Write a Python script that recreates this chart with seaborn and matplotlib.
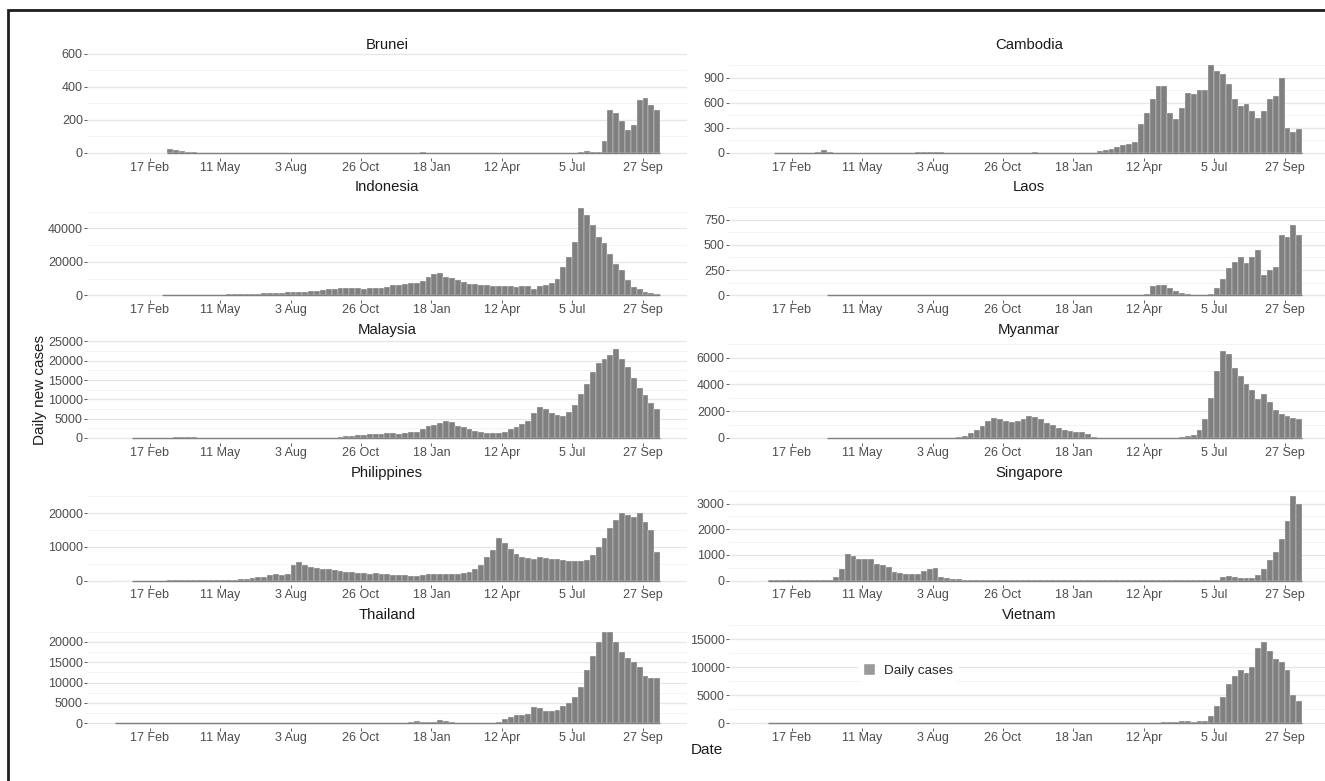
import matplotlib
matplotlib.use("Agg")
import matplotlib.pyplot as plt
import matplotlib.dates as mdates
import numpy as np
import pandas as pd
import seaborn as sns
from matplotlib.patches import Patch, Rectangle
from matplotlib.ticker import FuncFormatter, MultipleLocator

nan = float("nan")

countries = ["Brunei", "Cambodia", "Indonesia", "Laos", "Malaysia",
             "Myanmar", "Philippines", "Singapore", "Thailand", "Vietnam"]

# one value per week (Mondays, 6 Jan 2020 .. 11 Oct 2021)
# rows: 6 weeks, then 7 blocks of 12 weeks (one block per x tick), then 3 weeks
brunei = [nan, nan, nan, nan, nan, nan,
          nan, nan, nan, 20, 15, 10, 6, 3, 1, 1, 0, 0,
          0, 0, 0, 0, 0, 0, 0, 0, 0, 0, 0, 0,
          0, 0, 0, 0, 0, 0, 0, 0, 0, 0, 0, 0,
          0, 0, 0, 0, 0, 0, 0, 0, 0, 1, 3, 1,
          0, 0, 0, 0, 0, 0, 1, 0, 0, 0, 0, 1,
          1, 0, 1, 0, 0, 1, 0, 1, 1, 0, 1, 1,
          1, 2, 8, 3, 2, 70, 260, 240, 190, 140, 170, 320,
          330, 290, 260]
cambodia = [nan, nan, nan, 0, 0, 0,
            0, 0, 0, 1, 15, 30, 10, 3, 1, 0, 0, 0,
            0, 0, 0, 0, 0, 0, 0, 0, 2, 5, 10, 8,
            10, 5, 2, 1, 0, 0, 1, 0, 0, 0, 0, 0,
            0, 0, 0, 1, 3, 5, 2, 1, 1, 2, 3, 1,
            1, 1, 2, 1, 20, 35, 40, 70, 90, 110, 130, 350,
            480, 650, 800, 800, 480, 400, 540, 720, 700, 750, 750, 1050,
            980, 950, 830, 650, 560, 580, 500, 420, 500, 640, 680, 900,
            300, 250, 280]
indonesia = [nan, nan, nan, nan, nan, nan,
             nan, nan, 5, 30, 70, 100, 150, 300, 350, 330, 350, 400,
             500, 550, 600, 700, 900, 1000, 1100, 1300, 1500, 1600, 1700, 1900,
             2000, 2100, 2200, 2400, 2800, 3100, 3500, 3900, 4200, 4400, 4300, 4200,
             3600, 4100, 4400, 4600, 5200, 6000, 6400, 6800, 7200, 7500, 8500, 11000,
             13000, 13500, 11000, 10500, 9000, 8000, 7000, 6500, 6200, 6000, 5800, 5500,
             5500, 5300, 5200, 5500, 5500, 3500, 5500, 6000, 7500, 9500, 17000, 23000,
             32000, 52000, 48000, 42000, 35000, 31000, 25000, 19000, 15000, 9000, 5000, 3500,
             2200, 1500, 1100]
laos = [nan, nan, nan, nan, nan, nan,
        nan, nan, nan, nan, nan, nan, 0, 1, 2, 1, 0, 0,
        0, 0, 0, 0, 0, 0, 0, 0, 0, 0, 0, 0,
        0, 0, 0, 0, 0, 0, 0, 0, 0, 0, 0, 0,
        0, 0, 0, 0, 0, 8, 0, 0, 0, 0, 0, 0,
        0, 0, 0, 0, 0, 0, 0, 0, 0, 0, 0, 0,
        10, 90, 105, 100, 70, 45, 25, 10, 8, 5, 6, 15,
        70, 160, 270, 330, 380, 320, 380, 450, 200, 250, 280, 600,
        580, 700, 600]
malaysia = [nan, nan, nan, 5, 3, 2,
            1, 0, 15, 90, 160, 180, 150, 140, 80, 50, 40, 50,
            40, 30, 20, 20, 20, 10, 8, 5, 5, 5, 5, 10,
            10, 15, 20, 15, 10, 30, 50, 100, 200, 400, 600, 850,
            850, 1000, 950, 1050, 1200, 1200, 1100, 1300, 1500, 1600, 2300, 3000,
            3300, 4000, 4500, 4200, 3200, 2800, 2300, 1800, 1500, 1400, 1300, 1300,
            1600, 2200, 2800, 3500, 4500, 6500, 8000, 7500, 6500, 6000, 5800, 6800,
            8500, 11500, 14000, 17000, 19500, 20500, 21500, 23000, 20500, 18500, 15500, 13000,
            11000, 9000, 7500]
myanmar = [nan, nan, nan, nan, nan, nan,
           nan, nan, nan, nan, nan, nan, 1, 2, 8, 10, 5, 3,
           5, 8, 3, 20, 8, 10, 5, 3, 8, 10, 5, 3,
           3, 2, 5, 10, 60, 150, 350, 600, 900, 1300, 1500, 1400,
           1300, 1200, 1300, 1450, 1650, 1600, 1450, 1150, 950, 750, 620, 520,
           480, 420, 300, 50, 20, 10, 15, 10, 5, 5, 5, 5,
           5, 8, 10, 10, 10, 15, 50, 120, 200, 600, 1400, 3000,
           5000, 6500, 6300, 5200, 4600, 4000, 3600, 2900, 3300, 2700, 2100, 1800,
           1650, 1500, 1450]
philippines = [nan, nan, nan, 0, 0, 0,
               0, 0, 5, 30, 50, 180, 250, 220, 200, 250, 200, 220,
               250, 230, 250, 400, 600, 900, 1000, 1200, 1600, 1800, 1700, 2000,
               4500, 5500, 4500, 4000, 3800, 3500, 3500, 3000, 2800, 2600, 2500, 2300,
               2200, 2000, 2100, 2000, 1800, 1700, 1700, 1500, 1400, 1300, 1500, 1800,
               1900, 1900, 2000, 1900, 2000, 2300, 2600, 3300, 4500, 7000, 9000, 12500,
               11000, 9500, 8000, 7000, 6800, 6500, 7000, 6800, 6500, 6300, 6000, 5800,
               5700, 5800, 6000, 7500, 10000, 12500, 15500, 18000, 20000, 19500, 19000, 20000,
               17500, 15000, 8500]
singapore = [nan, nan, 5, 5, 10, 5,
             5, 5, 10, 15, 20, 30, 40, 120, 450, 1050, 950, 850,
             850, 820, 650, 600, 520, 330, 300, 260, 260, 270, 380, 450,
             500, 130, 80, 65, 50, 40, 30, 20, 15, 10, 10, 8,
             8, 8, 8, 10, 12, 10, 10, 12, 15, 20, 25, 25,
             30, 25, 15, 12, 12, 15, 12, 15, 20, 25, 25, 20,
             25, 30, 30, 35, 25, 20, 20, 15, 15, 18, 20, 15,
             10, 130, 180, 120, 90, 80, 100, 200, 450, 800, 1100, 1600,
             2300, 3300, 3000]
thailand = [0, 1, 2, 3, 2, 3,
            2, 3, 10, 30, 100, 130, 100, 50, 30, 15, 5, 5,
            3, 2, 2, 3, 5, 3, 3, 5, 5, 3, 3, 4,
            3, 4, 5, 3, 5, 4, 3, 4, 5, 8, 6, 8,
            7, 8, 6, 8, 10, 8, 10, 15, 400, 500, 400, 300,
            250, 800, 500, 200, 150, 150, 100, 80, 60, 80, 60, 300,
            1000, 1500, 2000, 2100, 2200, 4000, 3800, 2900, 3000, 3300, 4200, 5000,
            6500, 9000, 13000, 16500, 20000, 22500, 22500, 20000, 17500, 16000, 15000, 13800,
            11500, 11000, 11000]
vietnam = [nan, nan, 0, 1, 2, 1,
           1, 0, 3, 10, 20, 15, 8, 2, 1, 0, 0, 0,
           0, 1, 2, 1, 1, 2, 1, 3, 2, 1, 10, 20,
           25, 20, 10, 5, 3, 2, 2, 1, 1, 1, 2, 1,
           2, 1, 1, 2, 3, 2, 1, 2, 3, 2, 2, 1,
           1, 30, 60, 40, 20, 10, 5, 3, 3, 2, 3, 3,
           3, 5, 30, 150, 200, 250, 300, 350, 250, 300, 400, 1200,
           3000, 4700, 7000, 8500, 9500, 9000, 10000, 13500, 14500, 13000, 11500, 11000,
           9500, 5000, 4000]

# largest single day in each panel (sets the free y scale) and y break step
y_max = [576, 1140, 56757, 940, 24600, 7100, 28200, 3700, 23400, 17000]
y_step = [200, 300, 20000, 250, 5000, 2000, 10000, 1000, 5000, 5000]

tick_dates = ["2020-02-17", "2020-05-11", "2020-08-03", "2020-10-26",
              "2021-01-18", "2021-04-12", "2021-07-05", "2021-09-27"]
tick_labels = ["17 Feb", "11 May", "3 Aug", "26 Oct",
               "18 Jan", "12 Apr", "5 Jul", "27 Sep"]

series = [brunei, cambodia, indonesia, laos, malaysia,
          myanmar, philippines, singapore, thailand, vietnam]

week_start = pd.date_range("2020-01-06", "2021-10-11", freq="7D")
for s in series:
    assert len(s) == len(week_start)

sns.set_theme(style="whitegrid")
plt.rcParams["font.family"] = ["Liberation Sans", "DejaVu Sans"]

W, H = 1325, 781
fig = plt.figure(figsize=(W / 100, H / 100), dpi=100)

col_x = [87, 729]
panel_w = 600
row_top = [53, 195.6, 338.2, 480.8, 623.4]
panel_h = 104.5

start = mdates.date2num(week_start[0])
stop = mdates.date2num(week_start[-1]) + 7
centers = mdates.date2num(week_start) + 3.5
xlim = mdates.date2num(pd.to_datetime(["2019-12-04", "2021-11-19"]))
ticks = mdates.date2num(pd.to_datetime(tick_dates))

bar_color = "#808080"

for i, (name, vals) in enumerate(zip(countries, series)):
    r, c = divmod(i, 2)
    ax = fig.add_axes([col_x[c] / W, 1 - (row_top[r] + panel_h) / H,
                       panel_w / W, panel_h / H])
    df = pd.DataFrame({"t": centers, "cases": vals}).dropna()
    sns.histplot(data=df, x="t", weights="cases", binwidth=7,
                 binrange=(start, stop), ax=ax,
                 color=bar_color, alpha=1, edgecolor="#f4f4f4", linewidth=0.25)
    ax.hlines(0, df.t.min() - 3.5, df.t.max() + 3.5, color=bar_color,
              lw=1.0, zorder=3)

    m = y_max[i]
    ax.set_xlim(*xlim)
    ax.set_ylim(-0.05 * m, 1.05 * m)
    ax.set_xticks(ticks)
    ax.set_xticklabels(tick_labels)
    ax.yaxis.set_major_locator(MultipleLocator(y_step[i]))
    ax.yaxis.set_minor_locator(MultipleLocator(y_step[i] / 2))
    ax.yaxis.set_major_formatter(FuncFormatter(lambda v, _: f"{int(round(v))}"))
    ax.set_xlabel("")
    ax.set_ylabel("")
    ax.set_title(name, fontsize=10.7, color="#1a1a1a", pad=3)

    for sp in ax.spines.values():
        sp.set_visible(False)
    ax.set_axisbelow(True)
    ax.xaxis.grid(False)
    ax.yaxis.grid(True, which="major", color="#e6e6e6", lw=0.9)
    ax.yaxis.grid(True, which="minor", color="#f1f1f1", lw=0.6)
    ax.tick_params(axis="both", which="major", length=2, width=0.6,
                   color="#444444", labelsize=9, labelcolor="#4d4d4d", pad=1)
    ax.tick_params(axis="y", which="minor", length=0)
    ax.tick_params(axis="x", bottom=True)
    ax.tick_params(axis="y", left=True)

fig.text(40 / W, 1 - 390 / H, "Daily new cases", rotation=90,
         ha="center", va="center", fontsize=11, color="#1a1a1a")
fig.text(707 / W, 1 - 750 / H, "Date", ha="center", va="center",
         fontsize=11, color="#1a1a1a")

fig.legend(handles=[Patch(facecolor="#9a9a9a", label="Daily cases")],
           loc="center left", bbox_to_anchor=(858 / W, 1 - 670 / H),
           frameon=True, facecolor="white", edgecolor="none", framealpha=1,
           fontsize=9.7, handlelength=0.85, handleheight=0.95,
           handletextpad=0.7, borderpad=0.4, borderaxespad=0)

# figure frame (right and bottom edges fall outside the image)
fig.add_artist(Rectangle((8 / W, -0.1), 1.2, 1.1 - 10 / H,
                         transform=fig.transFigure, fill=False,
                         ec="#1e1e1e", lw=2))

fig.savefig("out.png", dpi=100)
